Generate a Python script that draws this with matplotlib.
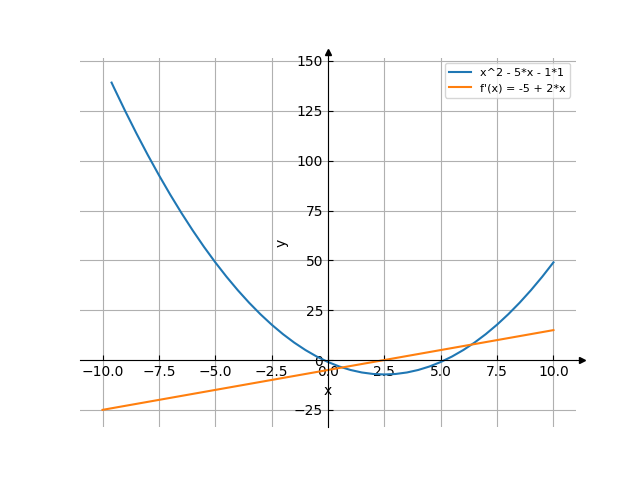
import matplotlib
matplotlib.use("Agg")
import matplotlib.pyplot as plt

# values
curve_x = [-9.6, -9.5, -9.0, -8.5, -8.0, -7.5, -7.0, -6.5, -6.0, -5.5, -5.0,
           -4.5, -4.0, -3.5, -3.0, -2.5, -2.0, -1.5, -1.0, -0.5, 0.0,
           0.5, 1.0, 1.5, 2.0, 2.5, 3.0, 3.5, 4.0, 4.5, 5.0,
           5.5, 6.0, 6.5, 7.0, 7.5, 8.0, 8.5, 9.0, 9.5, 10.0]
curve_y = [139.16, 136.75, 125.0, 113.75, 103.0, 92.75, 83.0, 73.75, 65.0, 56.75, 49.0,
           41.75, 35.0, 28.75, 23.0, 17.75, 13.0, 8.75, 5.0, 1.75, -1.0,
           -3.25, -5.0, -6.25, -7.0, -7.25, -7.0, -6.25, -5.0, -3.25, -1.0,
           1.75, 5.0, 8.75, 13.0, 17.75, 23.0, 28.75, 35.0, 41.75, 49.0]
deriv_x = [-10.0, -5.0, 0.0, 5.0, 10.0]
deriv_y = [-25.0, -15.0, -5.0, 5.0, 15.0]

labels = ["x^2 - 5*x - 1*1", "f'(x) = -5 + 2*x"]

fig, ax = plt.subplots(figsize=(6.4, 4.8), dpi=100)
ax.plot(curve_x, curve_y, label=labels[0])
ax.plot(deriv_x, deriv_y, label=labels[1])

ax.set_xlim(-11, 11)
ax.set_ylim(-33.7, 151.7)

# axes through the origin
ax.spines["left"].set_position("zero")
ax.spines["bottom"].set_position("zero")
ax.spines["right"].set_visible(False)
ax.spines["top"].set_visible(False)
ax.tick_params(direction="in")
# short extensions so the arrow heads join the spines
ax.plot([1.0, 1.012], [0, 0], "k-", lw=0.8, transform=ax.get_yaxis_transform(), clip_on=False)
ax.plot([0, 0], [1.0, 1.016], "k-", lw=0.8, transform=ax.get_xaxis_transform(), clip_on=False)
ax.plot(1.012, 0, ">k", markersize=5, transform=ax.get_yaxis_transform(), clip_on=False)
ax.plot(0, 1.016, "^k", markersize=5, transform=ax.get_xaxis_transform(), clip_on=False)

ax.set_xlabel("x")
ax.set_ylabel("y")
ax.grid(True)
ax.legend(loc="upper right", fontsize=8)

fig.savefig("out.png", dpi=100)
